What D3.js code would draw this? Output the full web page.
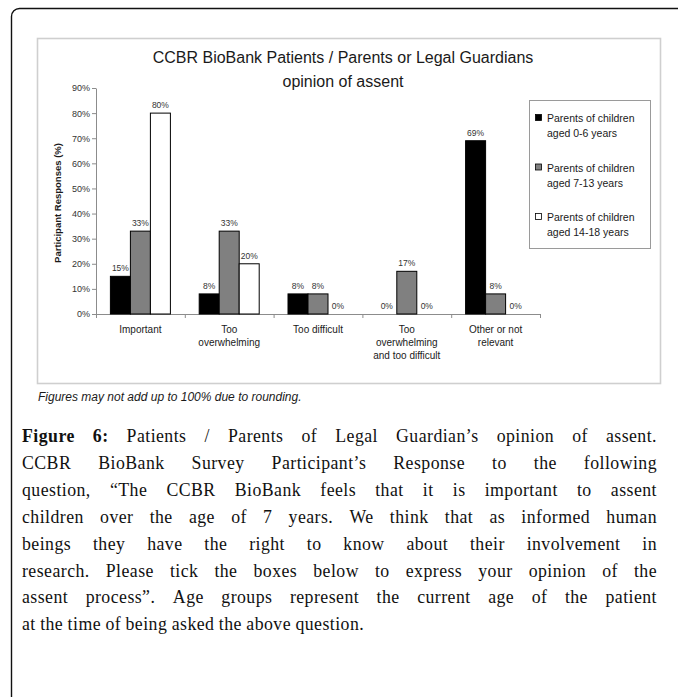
<!DOCTYPE html>
<html>
<head>
<meta charset="utf-8">
<script src="https://cdn.jsdelivr.net/npm/d3@7/dist/d3.min.js"></script>
<style>
  body { margin: 0; background: #fff; }
  text { font-family: "Liberation Sans", Arial, sans-serif; }
</style>
</head>
<body>
<svg id="chart" width="678" height="697"></svg>
<script>
// categories on the x axis (line breaks as in the picture)
var categories = ["Important", "Too\noverwhelming", "Too difficult", "Too\noverwhelming\nand too difficult", "Other or not\nrelevant"];
var seriesNames = ["Parents of children\naged 0-6 years", "Parents of children\naged 7-13 years", "Parents of children\naged 14-18 years"];
var aged0to6 = [15, 8, 8, 0, 69];
var aged7to13 = [33, 33, 8, 17, 8];
var aged14to18 = [80, 20, 0, 0, 0];
var yTicks = [0, 10, 20, 30, 40, 50, 60, 70, 80, 90];
var seriesColors = ["#000000", "#808080", "#ffffff"];

var captionLines = [
  "Patients / Parents of Legal Guardian\u2019s opinion of assent.",
  "CCBR BioBank Survey Participant\u2019s Response to the following",
  "question, \u201cThe CCBR BioBank feels that it is important to assent",
  "children over the age of 7 years. We think that as informed human",
  "beings they have the right to know about their involvement in",
  "research. Please tick the boxes below to express your opinion of the",
  "assent process\u201d. Age groups represent the current age of the patient",
  "at the time of being asked the above question."
];

var svg = d3.select("#chart");
svg.append("rect").attr("width", 678).attr("height", 697).attr("fill", "#fff");

// outer frame (only top-left corner shows)
svg.append("rect")
  .attr("x", 11.5).attr("y", 8.5)
  .attr("width", 720).attr("height", 720)
  .attr("rx", 8)
  .attr("fill", "none").attr("stroke", "#111").attr("stroke-width", 1.4);

// chart panel
svg.append("rect")
  .attr("x", 37.5).attr("y", 38.5)
  .attr("width", 623).attr("height", 345)
  .attr("fill", "#fff").attr("stroke", "#cfcfcf").attr("stroke-width", 1.6);

// title
var title = svg.append("text")
  .attr("x", 343).attr("text-anchor", "middle")
  .attr("font-size", 16).attr("fill", "#1a1a1a");
title.append("tspan").attr("x", 343).attr("y", 63).text("CCBR BioBank Patients / Parents or Legal Guardians");
title.append("tspan").attr("x", 343).attr("y", 87).text("opinion of assent");

var plotLeft = 96, plotRight = 540, plotTop = 88, plotBottom = 314;

var y = d3.scaleLinear().domain([0, 90]).range([plotBottom, plotTop]);
var x0 = d3.scaleBand().domain(categories).range([plotLeft, plotRight]).paddingInner(0);
var x1 = d3.scaleBand().domain([0, 1, 2]).range([0, x0.bandwidth()]).paddingInner(0).paddingOuter(0.72);
var xi = d3.scaleLinear().domain([0, categories.length]).range([plotLeft, plotRight]);

var series = [aged0to6, aged7to13, aged14to18];

// y axis
var yAxis = svg.append("g")
  .attr("transform", "translate(" + plotLeft + ",0)")
  .call(d3.axisLeft(y).tickValues(yTicks).tickFormat(function (d) { return d + "%"; }).tickSize(4).tickSizeOuter(0));
yAxis.select(".domain").attr("stroke", "#8c8c8c");
yAxis.selectAll(".tick line").attr("stroke", "#8c8c8c");
yAxis.selectAll(".tick text").attr("font-size", 9).attr("fill", "#333").attr("font-family", "Liberation Sans, Arial, sans-serif").attr("x", -6);

// x axis with ticks at category boundaries
var xAxis = svg.append("g")
  .attr("transform", "translate(0," + plotBottom + ")")
  .call(d3.axisBottom(xi).ticks(categories.length).tickFormat("").tickSize(4).tickSizeOuter(0));
xAxis.select(".domain").attr("stroke", "#8c8c8c");
xAxis.selectAll(".tick line").attr("stroke", "#8c8c8c");

// category labels
categories.forEach(function (c) {
  var t = svg.append("text")
    .attr("text-anchor", "middle")
    .attr("font-size", 10).attr("fill", "#1a1a1a");
  c.split("\n").forEach(function (line, i) {
    t.append("tspan").attr("x", x0(c) + x0.bandwidth() / 2).attr("y", 333 + i * 13).text(line);
  });
});

// y axis title
svg.append("text")
  .attr("transform", "translate(61," + (y(45) + 2) + ") rotate(-90)")
  .attr("text-anchor", "middle")
  .attr("font-size", 9.5).attr("font-weight", "bold").attr("fill", "#1a1a1a")
  .text("Participant Responses (%)");

// bars
var groups = svg.selectAll("g.series")
  .data(series).enter()
  .append("g").attr("class", "series");

groups.selectAll("rect")
  .data(function (s, si) { return s.map(function (v, ci) { return { v: v, si: si, c: categories[ci] }; }).filter(function (d) { return d.v > 0; }); })
  .enter().append("rect")
  .attr("x", function (d) { return x0(d.c) + x1(d.si); })
  .attr("y", function (d) { return y(d.v); })
  .attr("width", x1.bandwidth())
  .attr("height", function (d) { return y(0) - y(d.v); })
  .attr("fill", function (d) { return seriesColors[d.si]; })
  .attr("stroke", "#000").attr("stroke-width", 1);

groups.selectAll("text")
  .data(function (s, si) { return s.map(function (v, ci) { return { v: v, si: si, c: categories[ci] }; }); })
  .enter().append("text")
  .attr("x", function (d) { return x0(d.c) + x1(d.si) + x1.bandwidth() / 2; })
  .attr("y", function (d) { return y(d.v) - 5; })
  .attr("text-anchor", "middle")
  .attr("font-size", 8.5).attr("fill", "#333")
  .text(function (d) { return d.v + "%"; });

// legend
svg.append("rect")
  .attr("x", 529.5).attr("y", 100.5).attr("width", 121).attr("height", 148)
  .attr("fill", "#fff").attr("stroke", "#9a9a9a").attr("stroke-width", 1);

seriesNames.forEach(function (n, i) {
  var yy = 122 + i * 49.5;
  svg.append("rect")
    .attr("x", 535.5).attr("y", yy - 7.5).attr("width", 6).attr("height", 6)
    .attr("fill", seriesColors[i]).attr("stroke", "#000").attr("stroke-width", 0.8);
  var t = svg.append("text").attr("font-size", 10.5).attr("fill", "#1a1a1a");
  n.split("\n").forEach(function (line, j) {
    t.append("tspan").attr("x", 547).attr("y", yy + j * 15).text(line);
  });
});

// note under chart
svg.append("text")
  .attr("x", 38).attr("y", 401)
  .attr("font-size", 12).attr("font-style", "italic").attr("fill", "#1a1a1a")
  .text("Figures may not add up to 100% due to rounding.");

// figure caption, justified word by word
var capLeft = 22, capRight = 657, capTop = 442, capStep = 26.9;
captionLines.forEach(function (line, i) {
  var t = svg.append("text")
    .attr("y", capTop + i * capStep)
    .attr("font-size", 17.8)
    .attr("letter-spacing", 0.45)
    .attr("fill", "#111")
    .style("font-family", "Liberation Serif, 'Times New Roman', serif");
  var words = line.split(" ");
  var spans = [];
  if (i === 0) {
    spans.push(t.append("tspan").attr("font-weight", "bold").text("Figure"));
    spans.push(t.append("tspan").attr("font-weight", "bold").text("6:"));
  }
  words.forEach(function (w) { spans.push(t.append("tspan").text(w)); });
  var widths = spans.map(function (s) { return s.node().getComputedTextLength(); });
  var total = d3.sum(widths);
  var gap = (i === captionLines.length - 1) ? 4.4 : (capRight - capLeft - total) / (spans.length - 1);
  var xx = capLeft;
  spans.forEach(function (s, k) {
    s.attr("x", xx);
    xx += widths[k] + gap;
  });
});
</script>
</body>
</html>
